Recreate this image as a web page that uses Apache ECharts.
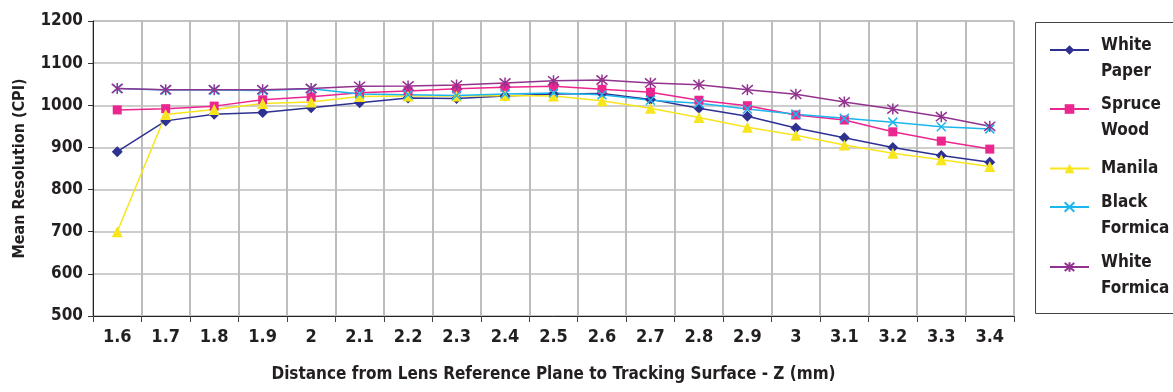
<!DOCTYPE html>
<html>
<head>
<meta charset="utf-8">
<script src="https://cdn.jsdelivr.net/npm/echarts@6/dist/echarts.min.js"></script>
<style>
html,body{margin:0;padding:0;background:#fff;}
#chart{width:1173px;height:392px;}
</style>
</head>
<body>
<div id="chart"></div>
<script>
const categories = ['1.6','1.7','1.8','1.9','2','2.1','2.2','2.3','2.4','2.5','2.6','2.7','2.8','2.9','3','3.1','3.2','3.3','3.4'];
const whitePaper   = [890, 963, 979, 983, 994, 1006, 1017, 1016, 1022, 1027, 1028, 1014, 993, 974, 946, 923, 900, 881, 865];
const spruceWood   = [989, 992, 998, 1013, 1020, 1030, 1034, 1039, 1043, 1045, 1038, 1031, 1012, 999, 977, 965, 937, 915, 896];
const manila       = [700, 978, 990, 1004, 1008, 1021, 1022, 1022, 1023, 1022, 1011, 993, 971, 948, 929, 906, 886, 871, 855];
const blackFormica = [1040, 1036, 1036, 1035, 1039, 1027, 1025, 1023, 1027, 1029, 1025, 1012, 1005, 991, 979, 969, 960, 949, 944];
const whiteFormica = [1040, 1037, 1037, 1037, 1040, 1045, 1046, 1048, 1053, 1058, 1060, 1053, 1049, 1037, 1026, 1008, 991, 973, 950];
const yTicks = {min: 500, max: 1200, interval: 100};
const seriesNames = ['White Paper', 'Spruce Wood', 'Manila', 'Black Formica', 'White Formica'];

const FONT = "'DejaVu Sans Condensed', 'Liberation Sans Narrow', sans-serif";
const TXT = '#231F20';
const colors = ['#2E3192', '#EC268F', '#F7E51E', '#1CB5EC', '#92328F'];
const symbols = [
  'diamond',
  'rect',
  'triangle',
  'path://M0,0L10,10M10,0L0,10',
  'path://M0,0L10,10M10,0L0,10M5,-1L5,11'
];
const sizes = [11, 9, 11, 9, 11];
const dataSets = [whitePaper, spruceWood, manila, blackFormica, whiteFormica];

const series = seriesNames.map((n, i) => ({
  name: n,
  type: 'line',
  data: dataSets[i],
  symbol: symbols[i],
  symbolSize: sizes[i],
  showAllSymbol: true,
  lineStyle: {color: colors[i], width: 1.5},
  itemStyle: {color: colors[i], borderColor: colors[i], borderWidth: i >= 3 ? 1.5 : 0},
  emphasis: {disabled: true},
  animation: false
}));

const legendTops = [20, 79, 160, 177, 237];
const legendFmt = {
  'White Paper': '{s| }\n{a|White}\n{a|Paper}',
  'Spruce Wood': '{s| }\n{a|Spruce}\n{a|Wood}',
  'Manila': '{a|Manila}',
  'Black Formica': '{s| }\n{a|Black}\n{a|Formica}',
  'White Formica': '{s| }\n{a|White}\n{a|Formica}'
};
const legends = seriesNames.map((n, i) => ({
  data: [n],
  left: 1049,
  top: legendTops[i],
  orient: 'vertical',
  padding: 0,
  itemWidth: 39,
  itemHeight: 12,
  selectedMode: false,
  formatter: (name) => legendFmt[name],
  textStyle: {
    fontFamily: FONT,
    color: TXT,
    rich: {
      a: {fontFamily: FONT, fontSize: 17, fontWeight: 'bold', lineHeight: 26, color: TXT, padding: [0, 0, 0, 7]},
      s: {fontSize: 8, lineHeight: 18}
    }
  }
}));

const chart = echarts.init(document.getElementById('chart'), null, {renderer: 'canvas'});
chart.setOption({
  backgroundColor: '#fff',
  animation: false,
  textStyle: {fontFamily: FONT},
  grid: {left: 93, right: 159, top: 21, bottom: 76, show: true, borderColor: '#a8a8a8', borderWidth: 1, containLabel: false, outerBoundsMode: 'none'},
  graphic: [{
    type: 'rect',
    z: 0,
    shape: {x: 1035.5, y: 22.5, width: 145, height: 291},
    style: {fill: '#fff', stroke: '#444', lineWidth: 1}
  }],
  legend: legends,
  xAxis: {
    type: 'category',
    data: categories,
    boundaryGap: true,
    name: 'Distance from Lens Reference Plane to Tracking Surface - Z (mm)',
    nameLocation: 'middle',
    nameGap: 50,
    nameTextStyle: {fontFamily: FONT, fontSize: 17, fontWeight: 'bold', color: TXT},
    axisLine: {show: true, lineStyle: {color: '#222', width: 1}},
    axisTick: {show: true, alignWithLabel: false, length: 6, lineStyle: {color: '#444'}},
    axisLabel: {fontFamily: FONT, fontSize: 18, fontWeight: 'bold', color: TXT, margin: 12, interval: 0},
    splitLine: {show: true, interval: 0, lineStyle: {color: '#bdbdbd', width: 2}}
  },
  yAxis: {
    type: 'value',
    min: yTicks.min,
    max: yTicks.max,
    interval: yTicks.interval,
    name: 'Mean Resolution (CPI)',
    nameLocation: 'middle',
    nameRotate: 90,
    nameGap: 65,
    nameTextStyle: {fontFamily: FONT, fontSize: 16, fontWeight: 'bold', color: TXT},
    axisLine: {show: true, lineStyle: {color: '#222', width: 1}},
    axisTick: {show: true, length: 5, lineStyle: {color: '#333'}},
    axisLabel: {fontFamily: FONT, fontSize: 17, fontWeight: 'bold', color: TXT, margin: 10, formatter: (v) => String(v)},
    splitLine: {show: true, lineStyle: {color: '#bdbdbd', width: 1.5}}
  },
  series: series
});
</script>
</body>
</html>
